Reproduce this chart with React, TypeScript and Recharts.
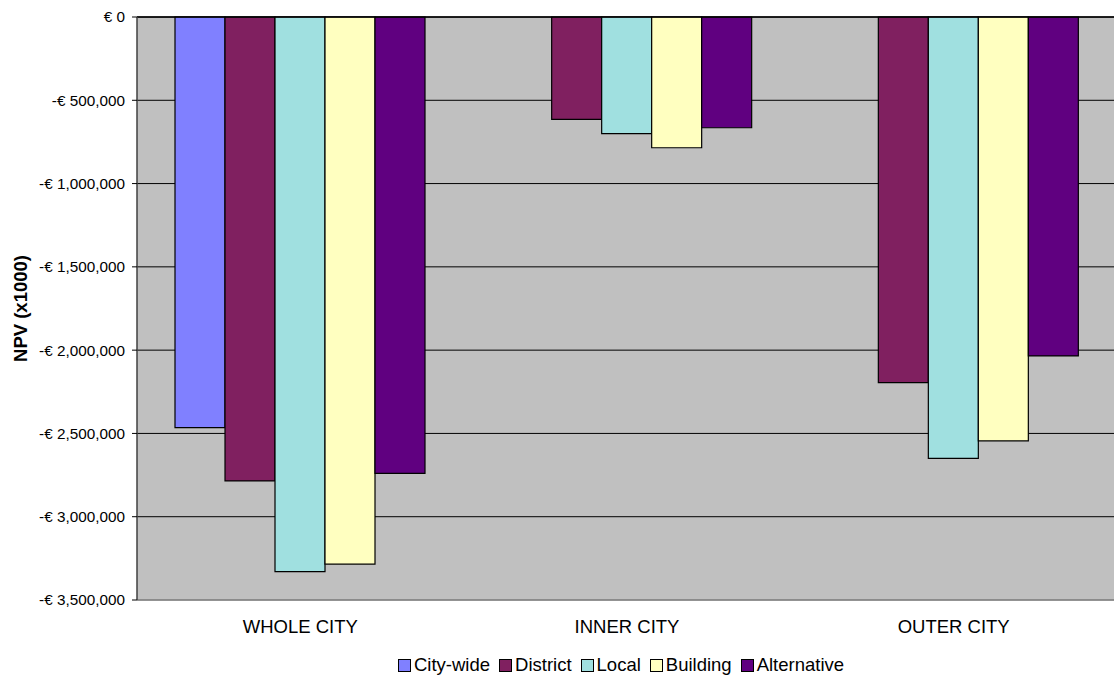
import {
  BarChart,
  Bar,
  XAxis,
  YAxis,
  CartesianGrid,
  ReferenceLine,
  Legend,
} from "recharts";

const regions = ["WHOLE CITY", "INNER CITY", "OUTER CITY"];
const cityWide = [-2465000, null, null];
const district = [-2785000, -615000, -2195000];
const local = [-3330000, -700000, -2650000];
const building = [-3285000, -785000, -2545000];
const alternative = [-2740000, -665000, -2035000];
const yTicks = [0, -500000, -1000000, -1500000, -2000000, -2500000, -3000000, -3500000];

const series = [
  { key: "cityWide", name: "City-wide", color: "#8080FF" },
  { key: "district", name: "District", color: "#802060" },
  { key: "local", name: "Local", color: "#A0E0E0" },
  { key: "building", name: "Building", color: "#FFFFC0" },
  { key: "alternative", name: "Alternative", color: "#600080" },
];

const data = regions.map((name, i) => ({
  name,
  cityWide: cityWide[i],
  district: district[i],
  local: local[i],
  building: building[i],
  alternative: alternative[i],
}));

const FONT = "'Liberation Sans', Arial, sans-serif";

const formatEuro = (v: number) =>
  v === 0 ? "€ 0" : "-€ " + Math.abs(v).toLocaleString("en-US");

const AxisTitle = (props: any) => {
  const vb = props.viewBox || {};
  const cy = vb.y + vb.height / 2;
  return (
    <text
      x={20}
      y={cy}
      transform={`rotate(-90, 20, ${cy})`}
      textAnchor="middle"
      dominantBaseline="central"
      fontFamily={FONT}
      fontSize={18.5}
      fontWeight="bold"
      fill="#000"
    >
      NPV (x1000)
    </text>
  );
};

// keep legend entries in series order
const LegendBox = (props: any) => {
  const order = series.map((s) => s.name);
  const items = [...(props.payload || [])].sort(
    (a: any, b: any) => order.indexOf(a.value) - order.indexOf(b.value)
  );
  return (
    <div
      style={{
        display: "flex",
        justifyContent: "center",
        alignItems: "center",
        height: 30,
        fontFamily: FONT,
        fontSize: 18.5,
        color: "#000",
      }}
    >
      {items.map((it: any) => (
        <span
          key={it.value}
          style={{ display: "flex", alignItems: "center", marginRight: 9 }}
        >
          <span
            style={{
              width: 11,
              height: 11,
              background: it.color,
              border: "1px solid #000",
              marginRight: 3,
              display: "inline-block",
            }}
          />
          {it.value}
        </span>
      ))}
    </div>
  );
};

export default function App() {
  return (
    <div style={{ position: "absolute", left: 0, top: 0, background: "#fff" }}>
      <BarChart
        width={1114}
        height={680}
        data={data}
        margin={{ top: 17, right: -3, left: 0, bottom: 0 }}
        barCategoryGap={38}
        barGap={0}
      >
        <CartesianGrid
          vertical={false}
          stroke="#000"
          fill="#C0C0C0"
          fillOpacity={1}
        />
        <XAxis
          dataKey="name"
          axisLine={false}
          tickLine={false}
          height={50}
          tickMargin={14}
          tick={{ fill: "#000", fontSize: 18.5, fontFamily: FONT }}
        />
        <YAxis
          width={137}
          domain={[-3500000, 0]}
          ticks={yTicks}
          tickFormatter={formatEuro}
          tickSize={5}
          tickMargin={7}
          axisLine={{ stroke: "#404040", strokeWidth: 1.5 }}
          tickLine={{ stroke: "#000" }}
          tick={{ fill: "#000", fontSize: 15.3, fontFamily: FONT }}
          label={<AxisTitle />}
        />
        <Legend
          verticalAlign="bottom"
          content={<LegendBox />}
          wrapperStyle={{ left: 137, width: 977 }}
        />
        {series.map((s) => (
          <Bar
            key={s.key}
            dataKey={s.key}
            name={s.name}
            fill={s.color}
            stroke="#000"
            strokeWidth={1.2}
            isAnimationActive={false}
          />
        ))}
        <ReferenceLine y={-3500000} stroke="#9a9a9a" strokeWidth={1.5} />
        <ReferenceLine y={0} stroke="#000" strokeWidth={1.5} />
      </BarChart>
    </div>
  );
}
